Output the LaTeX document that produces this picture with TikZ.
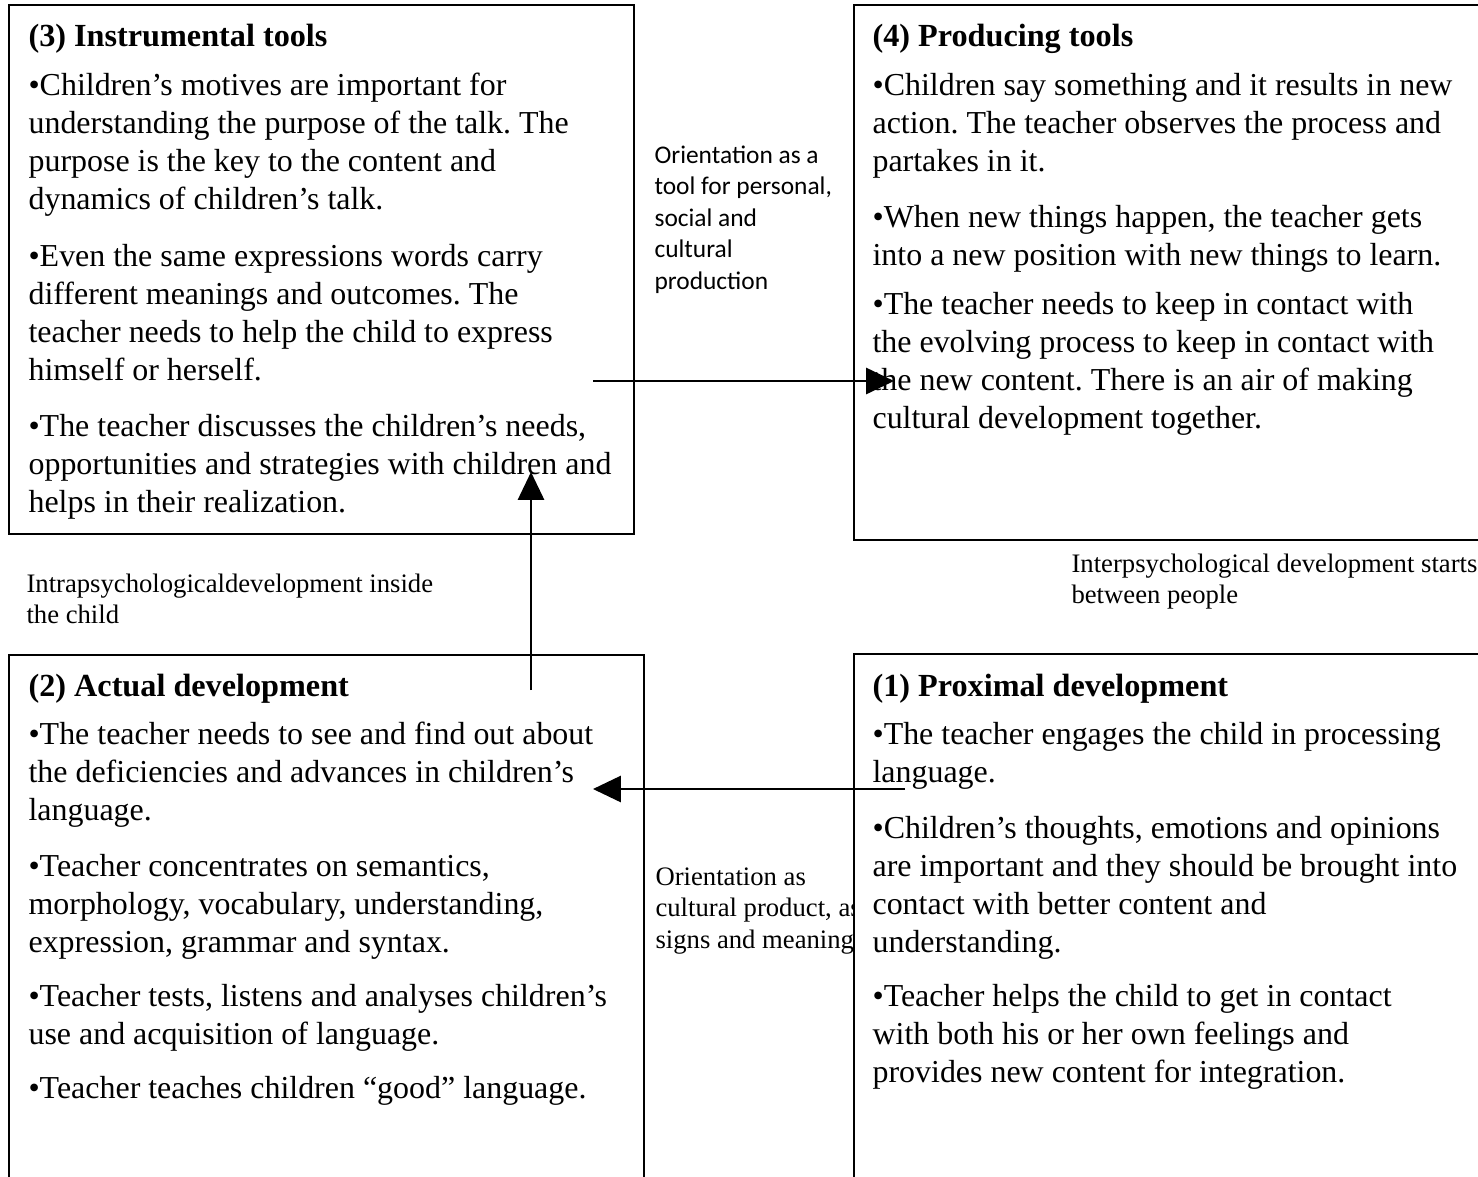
\documentclass[tikz,border=0pt]{standalone}
\usepackage{fontspec}
\setmainfont{Liberation Serif}
\newfontfamily\calibfont{Carlito}
\usetikzlibrary{arrows.meta,fit}

\tikzset{
  boxframe/.style={draw=black, line width=0.75pt, fill=white, inner sep=0pt},
  txt/.style={anchor=base west, inner sep=0pt, font=\fontsize{11.5}{13.8}\selectfont},
  ttl/.style={anchor=base west, inner sep=0pt, font=\fontsize{11.6}{13.8}\selectfont\bfseries},
  lbl/.style={anchor=base west, inner sep=0pt, font=\fontsize{9.6}{11.5}\selectfont},
  clbl/.style={anchor=base west, inner sep=0pt, font=\calibfont\fontsize{9.15}{11}\selectfont},
  conn/.style={draw=black, line width=0.75pt, -{Triangle[length=10pt,width=9.4pt]}},
}

\newcommand\mylines[6]{%
  \foreach \myline [count=\myi] in {#6} {\node[#2] (#1-\myi) at (#3,{#4+#5*(\myi-1)}) {\myline};}}

\begin{document}
\frenchspacing
\begin{tikzpicture}[x=0.36pt, y=-0.36pt]
\useasboundingbox (0,0) rectangle (1478,1176);
\clip (0,0) rectangle (1478,1176);

% labels between boxes
\mylines{lblA}{clbl}{654}{163}{31.5}{Orientation as a, {tool for personal,}, social and, cultural, production}
\mylines{lblB}{lbl}{655}{885}{31.5}{Orientation as, {cultural product, as}, signs and meaning}
\mylines{lblC}{lbl}{1071}{572}{31.5}{Interpsychological development starts, between people}
\mylines{lblD}{lbl}{26}{592}{31.5}{Intrapsychologicaldevelopment inside, the child}

% boxes
\node[boxframe, fit={(9,5) (634,534)}] (box3) {};
\node[boxframe, fit={(854,5) (1500,540)}] (box4) {};
\node[boxframe, fit={(9,655) (644,1200)}] (box2) {};
\node[boxframe, fit={(854,654) (1500,1200)}] (box1) {};

% box 3
\node[ttl] (t3) at (28,46) {(3) Instrumental tools};
\mylines{b3p1}{txt}{28}{95}{38.3}{•Children’s motives are important for, understanding the purpose of the talk. The, purpose is the key to the content and, dynamics of children’s talk.}
\mylines{b3p2}{txt}{28}{266}{38.3}{•Even the same expressions words carry, different meanings and outcomes. The, teacher needs to help the child to express, himself or herself.}
\mylines{b3p3}{txt}{28}{436}{38.3}{{•The teacher discusses the children’s needs,}, opportunities and strategies with children and, helps in their realization.}

% box 4
\node[ttl] (t4) at (872,46) {(4) Producing tools};
\mylines{b4p1}{txt}{872}{95}{38.3}{•Children say something and it results in new, action. The teacher observes the process and, partakes in it.}
\mylines{b4p2}{txt}{872}{227}{38.3}{{•When new things happen, the teacher gets}, into a new position with new things to learn.}
\mylines{b4p3}{txt}{872}{314}{38.3}{•The teacher needs to keep in contact with, the evolving process to keep in contact with, the new content. There is an air of making, cultural development together.}

% box 2
\node[ttl] (t2) at (28,696) {(2) Actual development};
\mylines{b2p1}{txt}{28}{744}{38.3}{•The teacher needs to see and find out about, the deficiencies and advances in children’s, language.}
\mylines{b2p2}{txt}{28}{876}{38.3}{{•Teacher concentrates on semantics,}, {morphology, vocabulary, understanding,}, {expression, grammar and syntax.}}
\mylines{b2p3}{txt}{28}{1006}{38.3}{{•Teacher tests, listens and analyses children’s}, use and acquisition of language.}
\node[txt] (b2p4) at (28,1098) {•Teacher teaches children “good” language.};

% box 1
\node[ttl] (t1) at (872,696) {(1) Proximal development};
\mylines{b1p1}{txt}{872}{744}{38.3}{•The teacher engages the child in processing, language.}
\mylines{b1p2}{txt}{872}{838}{38.3}{{•Children’s thoughts, emotions and opinions}, are important and they should be brought into, contact with better content and, understanding.}
\mylines{b1p3}{txt}{872}{1006}{38.3}{•Teacher helps the child to get in contact, with both his or her own feelings and, provides new content for integration.}

% connectors
\coordinate (a1s) at (593,381);
\coordinate (a1e) at (894,381);
\coordinate (a2s) at (531,690);
\coordinate (a2e) at (531,472);
\coordinate (a3s) at (905,789);
\coordinate (a3e) at (593,789);
\draw[conn] (a1s) -- (a1e);
\draw[conn] (a2s) -- (a2e);
\draw[conn] (a3s) -- (a3e);
\end{tikzpicture}
\end{document}
